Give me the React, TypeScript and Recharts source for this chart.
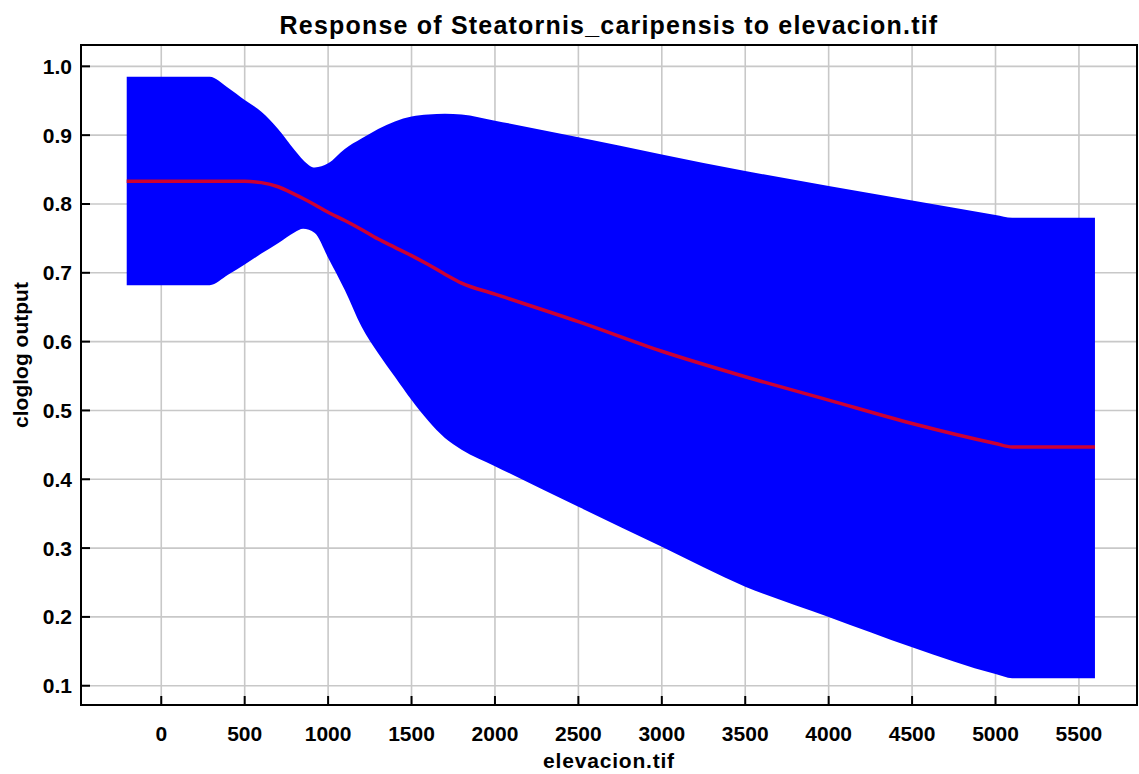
import React from 'react'
import {
  ComposedChart,
  Area,
  Line,
  XAxis,
  YAxis,
  CartesianGrid,
  ReferenceArea,
} from 'recharts'

// elevation steps (metres)
const elevation = [-207, 0, 290, 400, 500, 600, 700, 800, 850, 920, 1000, 1100, 1200, 1300, 1400, 1500, 1600, 1700, 1800, 2000, 2500, 3000, 3500, 4000, 4500, 5000, 5100, 5596]

// mean response (red line)
const response = [0.833, 0.833, 0.833, 0.833, 0.833, 0.831, 0.825, 0.814, 0.808, 0.799, 0.788, 0.776, 0.763, 0.749, 0.737, 0.725, 0.712, 0.698, 0.685, 0.669, 0.629, 0.586, 0.549, 0.515, 0.481, 0.452, 0.447, 0.447]

// +/- one std dev band (blue)
const upper = [0.985, 0.985, 0.985, 0.969, 0.951, 0.934, 0.909, 0.878, 0.864, 0.853, 0.859, 0.880, 0.895, 0.909, 0.920, 0.927, 0.930, 0.931, 0.930, 0.921, 0.897, 0.872, 0.848, 0.826, 0.805, 0.784, 0.780, 0.780]
const lower = [0.682, 0.682, 0.682, 0.697, 0.712, 0.728, 0.743, 0.759, 0.764, 0.758, 0.722, 0.675, 0.622, 0.583, 0.549, 0.515, 0.485, 0.460, 0.443, 0.419, 0.360, 0.302, 0.244, 0.200, 0.156, 0.117, 0.111, 0.111]

const xTicks = [0, 500, 1000, 1500, 2000, 2500, 3000, 3500, 4000, 4500, 5000, 5500]
const yTicks = [0.1, 0.2, 0.3, 0.4, 0.5, 0.6, 0.7, 0.8, 0.9, 1.0]

const xDomain: [number, number] = [-481, 5848]
const yDomain: [number, number] = [0.072, 1.031]

const font = "'Liberation Sans', Arial, sans-serif"
const tickStyle = { fontSize: 21, fontWeight: 700, fill: '#000', fontFamily: font }

export default function App() {
  const rows = elevation.map((x, i) => ({
    x,
    band: [lower[i], upper[i]],
    mean: response[i],
  }))

  return (
    <div style={{ position: 'absolute', left: 0, top: 0, width: 1139, height: 774, background: '#fff' }}>
      <div
        style={{
          position: 'absolute',
          left: 81,
          width: 1056,
          top: 9,
          textAlign: 'center',
          fontFamily: font,
          fontWeight: 700,
          fontSize: 25,
          letterSpacing: 1.2,
          lineHeight: '32px',
        }}
      >
        Response of Steatornis_caripensis to elevacion.tif
      </div>
      <ComposedChart
        width={1139}
        height={774}
        data={rows}
        margin={{ top: 44, right: 1, bottom: 0, left: 0 }}
      >
        <CartesianGrid stroke="#c8c8c8" strokeWidth={1.6} horizontalValues={yTicks} verticalValues={xTicks} />
        <XAxis
          dataKey="x"
          type="number"
          domain={xDomain}
          ticks={xTicks}
          allowDataOverflow
          height={69}
          stroke="#000"
          strokeWidth={2}
          tickSize={-9}
          tickMargin={30}
          tick={tickStyle}
          label={{ value: 'elevacion.tif', position: 'insideBottom', offset: 6, style: { ...tickStyle, letterSpacing: 0.8 } }}
        />
        {/* mirrored axes just to close the frame with inward ticks */}
        <XAxis
          xAxisId="top"
          dataKey="x"
          orientation="top"
          type="number"
          domain={xDomain}
          ticks={xTicks}
          allowDataOverflow
          height={1}
          stroke="#000"
          strokeWidth={2}
          tickSize={-9}
          tick={false}
        />
        <YAxis
          type="number"
          domain={yDomain}
          ticks={yTicks}
          allowDataOverflow
          width={81}
          stroke="#000"
          strokeWidth={2}
          tickSize={-9}
          tickMargin={18}
          tick={tickStyle}
          tickFormatter={(v: number) => v.toFixed(1)}
          label={{
            content: () => (
              <text
                x={28}
                y={355}
                transform="rotate(-90, 28, 355)"
                textAnchor="middle"
                style={tickStyle}
              >
                cloglog output
              </text>
            ),
          }}
        />
        <YAxis
          yAxisId="right"
          orientation="right"
          type="number"
          domain={yDomain}
          ticks={yTicks}
          allowDataOverflow
          width={1}
          stroke="#000"
          strokeWidth={2}
          tickSize={-9}
          tick={false}
        />
        <Area
          dataKey="band"
          type="monotone"
          fill="#0000ff"
          fillOpacity={1}
          stroke="none"
          isAnimationActive={false}
        />
        <Line
          dataKey="mean"
          type="monotone"
          stroke="#cc0033"
          strokeWidth={3.5}
          dot={false}
          isAnimationActive={false}
        />
        <Line
          xAxisId="top"
          yAxisId="right"
          dataKey="mean"
          stroke="none"
          dot={false}
          activeDot={false}
          legendType="none"
          isAnimationActive={false}
        />
        <ReferenceArea
          x1={xDomain[0]}
          x2={xDomain[1]}
          y1={yDomain[0]}
          y2={yDomain[1]}
          fill="none"
          stroke="#000"
          strokeWidth={2}
          ifOverflow="visible"
        />
      </ComposedChart>
    </div>
  )
}
